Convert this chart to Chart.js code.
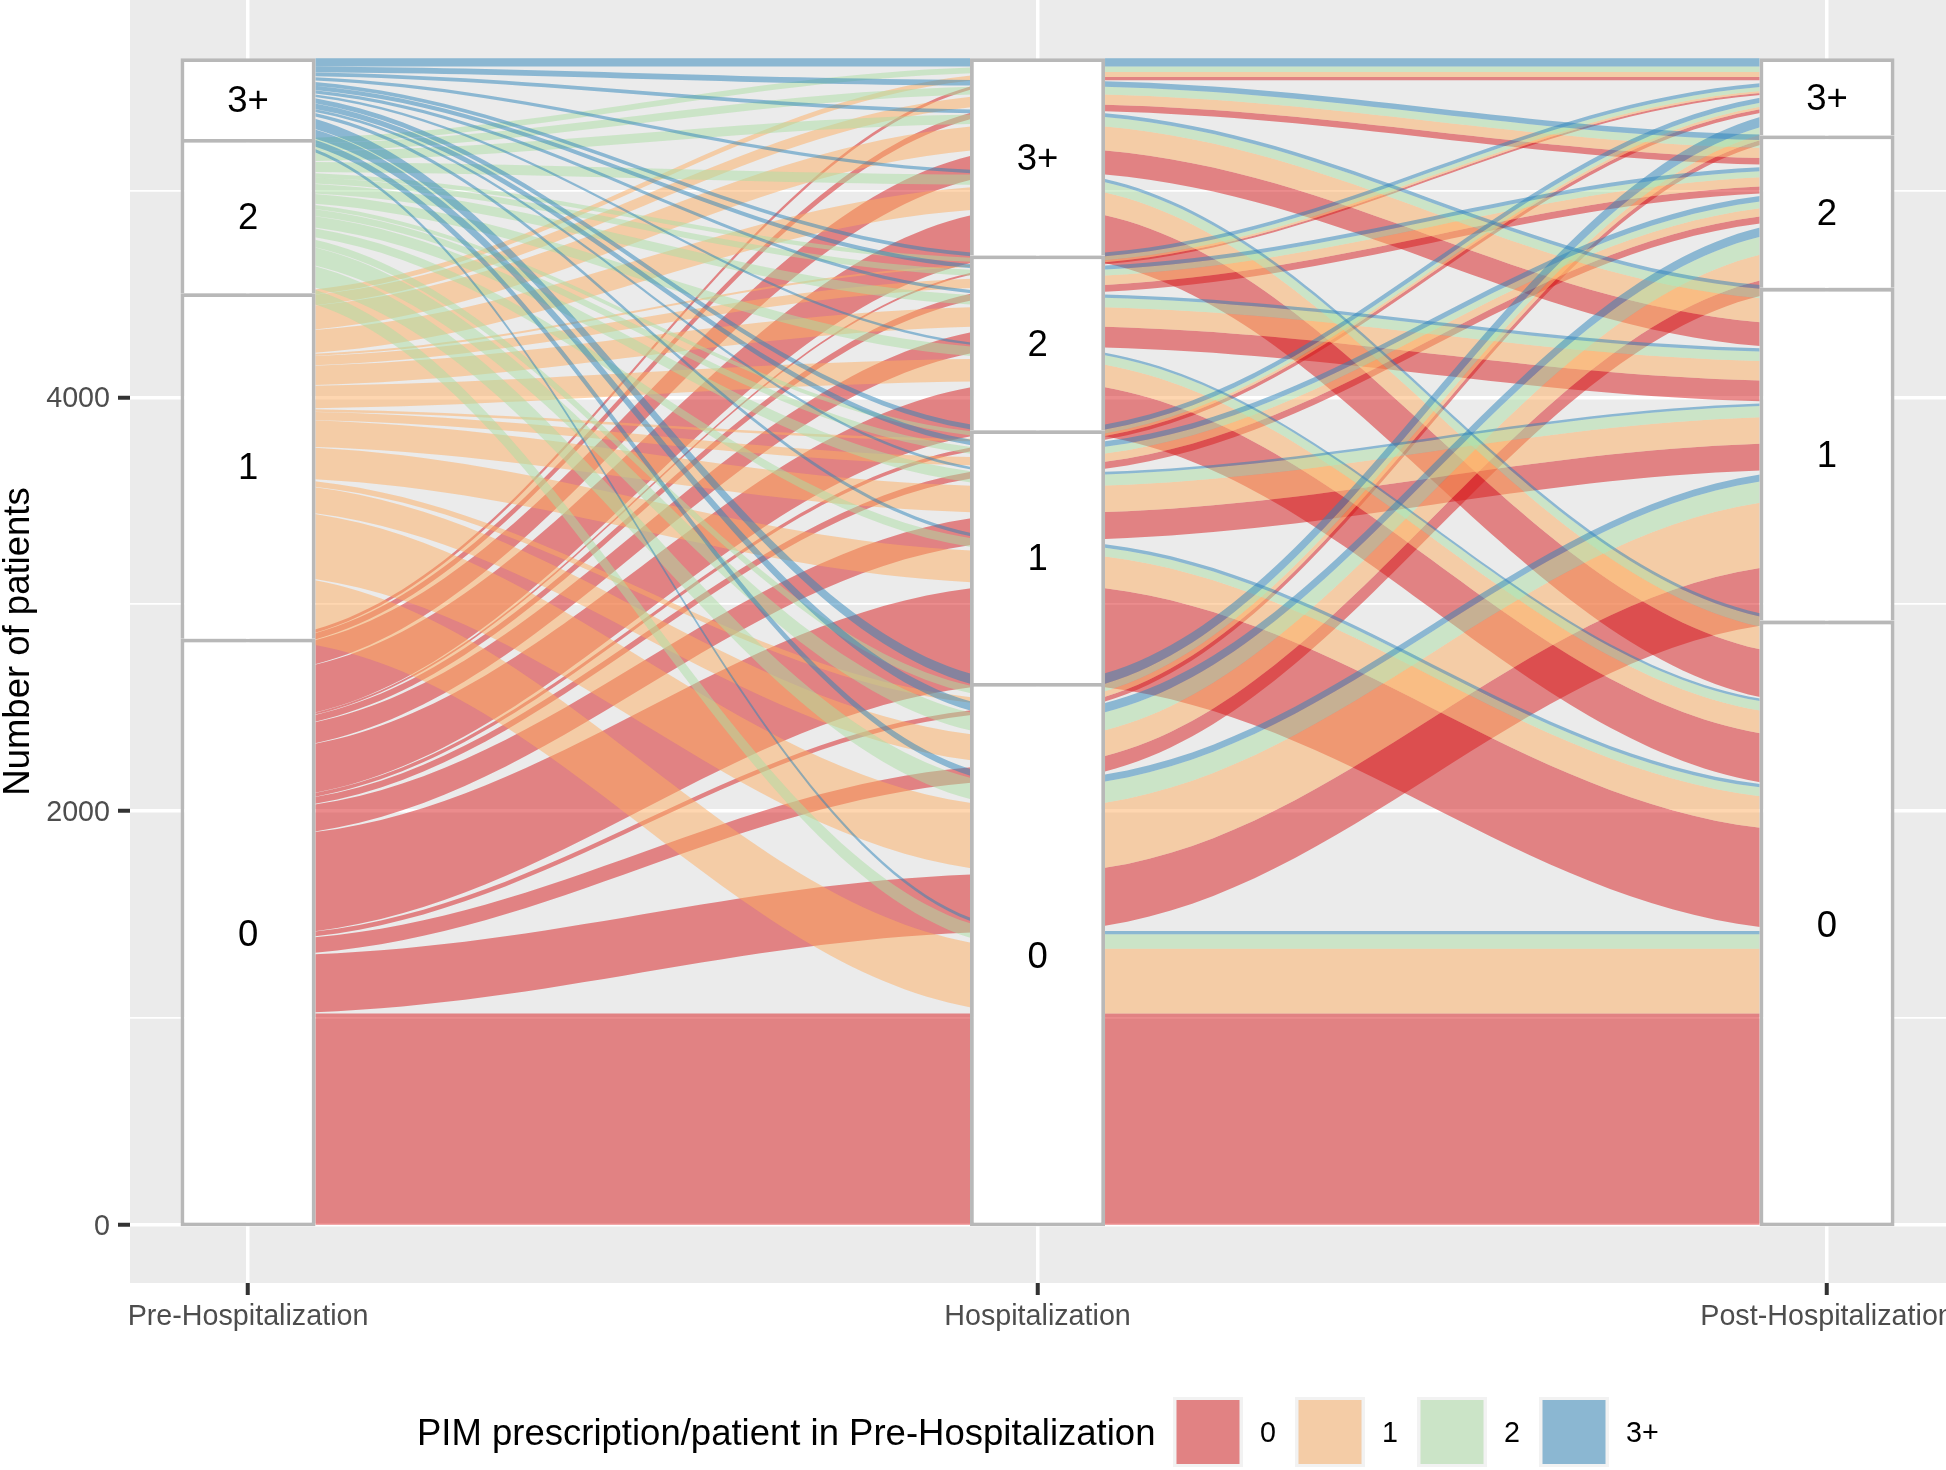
<!DOCTYPE html>
<html lang="en">
<head>
    <meta charset="UTF-8">
    <title>PIM prescriptions alluvial</title>
    <script src="https://cdn.jsdelivr.net/npm/chart.js"></script>
    <style>
        html, body { margin: 0; background: #fff; overflow: hidden; }
        canvas { display: block; }
    </style>
</head>
<body>
    <canvas id="alluvial" width="1946" height="1470"></canvas>

    <script>
        const axisLabels = ['Pre-Hospitalization', 'Hospitalization', 'Post-Hospitalization'];
        const strata = ['0', '1', '2', '3+'];
        const yTicks = [0, 1000, 2000, 3000, 4000, 5000];
        const yLabels = ['0', '', '2000', '', '4000', ''];

        // patients per pre-hospitalization group.
        // each row is one hospitalization stratum (0,1,2,3+), each column a post stratum (0,1,2,3+)
        const pre0 = [
            [1021, 280, 75, 23],
            [479, 130, 33, 18],
            [237, 101, 33, 9],
            [231, 116, 31, 16]
        ];
        const pre1 = [
            [313, 315, 125, 27],
            [153, 128, 40, 12],
            [109, 94, 45, 10],
            [110, 116, 50, 24]
        ];
        const pre2 = [
            [70, 103, 87, 36],
            [43, 54, 33, 20],
            [46, 46, 29, 20],
            [49, 46, 37, 27]
        ];
        const pre3 = [
            [16, 33, 45, 50],
            [16, 13, 27, 24],
            [12, 16, 20, 18],
            [16, 18, 27, 39]
        ];
        const counts = [pre0, pre1, pre2, pre3];

        const flowColors = ['rgba(215,25,28,0.5)', 'rgba(253,174,97,0.5)', 'rgba(171,221,164,0.5)', 'rgba(43,131,186,0.5)'];
        const CURVE = 0.38;

        // stack the lodes on one axis. order is the nesting of [p, h, q] indices, outermost first
        function stackLodes(order) {
            const lodes = {};
            const totals = [0, 0, 0, 0];
            let y = 0;
            const idx = [0, 0, 0];
            for (idx[order[0]] = 0; idx[order[0]] < 4; idx[order[0]]++) {
                const start = y;
                for (idx[order[1]] = 0; idx[order[1]] < 4; idx[order[1]]++) {
                    for (idx[order[2]] = 0; idx[order[2]] < 4; idx[order[2]]++) {
                        const n = counts[idx[0]][idx[1]][idx[2]];
                        lodes[idx.join('-')] = [y, y + n];
                        y += n;
                    }
                }
                totals[idx[order[0]]] = y - start;
            }
            return { lodes, totals };
        }

        const preStack = stackLodes([0, 1, 2]);
        const hospStack = stackLodes([1, 2, 0]);
        const postStack = stackLodes([2, 1, 0]);

        function ribbon(ctx, xs, ys, a, b, ax, bx, color) {
            const x0 = xs.getPixelForValue(ax);
            const x1 = xs.getPixelForValue(bx);
            const c = (x1 - x0) * CURVE;
            const t0 = ys.getPixelForValue(a[1]), b0 = ys.getPixelForValue(a[0]);
            const t1 = ys.getPixelForValue(b[1]), b1 = ys.getPixelForValue(b[0]);
            ctx.beginPath();
            ctx.moveTo(x0, t0);
            ctx.bezierCurveTo(x0 + c, t0, x1 - c, t1, x1, t1);
            ctx.lineTo(x1, b1);
            ctx.bezierCurveTo(x1 - c, b1, x0 + c, b0, x0, b0);
            ctx.closePath();
            ctx.fillStyle = color;
            ctx.fill();
        }

        function drawFlows(chart, from, to, ax, bx) {
            const { ctx, chartArea: area, scales: { x, y } } = chart;
            const bars = chart.getDatasetMeta(0).data;
            // the flows run from axis centre to axis centre, only the part between the strata shows
            const left = bars[ax - 1].x + bars[ax - 1].width / 2;
            const right = bars[bx - 1].x - bars[bx - 1].width / 2;
            ctx.save();
            ctx.beginPath();
            ctx.rect(left, area.top, right - left, area.bottom - area.top);
            ctx.clip();
            for (let p = 0; p < 4; p++) {
                for (let h = 0; h < 4; h++) {
                    for (let q = 0; q < 4; q++) {
                        const key = p + '-' + h + '-' + q;
                        ribbon(ctx, x, y, from.lodes[key], to.lodes[key], ax, bx, flowColors[p]);
                    }
                }
            }
            ctx.restore();
        }

        const panelPlugin = {
            id: 'panel',
            beforeDraw(chart) {
                const { ctx, chartArea: a } = chart;
                ctx.fillStyle = '#EBEBEB';
                ctx.fillRect(a.left, a.top, a.right - a.left, a.bottom - a.top);
            }
        };

        const flowPlugin = {
            id: 'flows',
            beforeDatasetsDraw(chart) {
                drawFlows(chart, preStack, hospStack, 1, 2);
                drawFlows(chart, hospStack, postStack, 2, 3);
            }
        };

        const labelPlugin = {
            id: 'stratumLabels',
            afterDatasetsDraw(chart) {
                const { ctx } = chart;
                ctx.save();
                ctx.font = '36.5px "Liberation Sans"';
                ctx.fillStyle = '#000';
                ctx.textAlign = 'center';
                ctx.textBaseline = 'middle';
                chart.data.datasets.forEach((ds, i) => {
                    chart.getDatasetMeta(i).data.forEach(bar => {
                        const mid = (bar.y + bar.base) / 2;
                        ctx.fillText(ds.label, bar.x, mid + 3);
                    });
                });
                ctx.restore();
            }
        };

        const legendPlugin = {
            id: 'fillLegend',
            afterDraw(chart) {
                const { ctx } = chart;
                ctx.save();
                ctx.textBaseline = 'middle';
                ctx.fillStyle = '#000';
                ctx.font = '36.5px "Liberation Sans"';
                ctx.fillText('PIM prescription/patient in Pre-Hospitalization', 417, 1435);
                ctx.font = '28.7px "Liberation Sans"';
                strata.forEach((s, i) => {
                    const kx = 1173 + i * 122;
                    ctx.fillStyle = '#F2F2F2';
                    ctx.fillRect(kx, 1397, 70, 70);
                    ctx.fillStyle = '#EBEBEB';
                    ctx.fillRect(kx + 3.5, 1400, 63, 64);
                    ctx.fillStyle = flowColors[i];
                    ctx.fillRect(kx + 3.5, 1400, 63, 64);
                    ctx.fillStyle = '#000';
                    ctx.fillText(s, kx + 87, 1434);
                });
                ctx.restore();
            }
        };

        function stratumDataset(i) {
            return {
                label: strata[i],
                data: [
                    { x: 1, y: preStack.totals[i] },
                    { x: 2, y: hospStack.totals[i] },
                    { x: 3, y: postStack.totals[i] }
                ],
                backgroundColor: '#FFFFFF',
                borderColor: '#B8B8B8',
                borderWidth: { top: 3.8, left: 3.8, right: 3.8, bottom: i === 0 ? 3.8 : 0 },
                borderSkipped: false,
                // bottom border sits just under the zero line
                base: i === 0 ? -8 : undefined,
                barPercentage: 0.171,
                categoryPercentage: 1
            };
        }

        new Chart(document.getElementById('alluvial'), {
            type: 'bar',
            data: { datasets: strata.map((s, i) => stratumDataset(i)) },
            plugins: [panelPlugin, flowPlugin, labelPlugin, legendPlugin],
            options: {
                responsive: false,
                animation: false,
                layout: { padding: { left: 0, right: 0, top: 0, bottom: 127 } },
                plugins: { legend: { display: false }, tooltip: { enabled: false } },
                scales: {
                    x: {
                        type: 'linear',
                        stacked: true,
                        offset: false,
                        min: 0.8505,
                        max: 3.1507,
                        afterBuildTicks: scale => { scale.ticks = [1, 2, 3].map(v => ({ value: v })); },
                        afterFit: scale => { scale.height = 60; scale.paddingLeft = 0; scale.paddingRight = 0; },
                        border: { display: false },
                        grid: { offset: false, color: '#FFFFFF', lineWidth: 3.5, tickColor: '#333333', tickWidth: 4, tickLength: 12 },
                        ticks: {
                            autoSkip: false,
                            maxRotation: 0,
                            minRotation: 0,
                            padding: 5,
                            color: '#4D4D4D',
                            font: { family: '"Liberation Sans"', size: 28.7 },
                            callback: v => axisLabels[v - 1]
                        }
                    },
                    y: {
                        stacked: true,
                        min: -282,
                        max: 5922,
                        afterBuildTicks: scale => { scale.ticks = yTicks.map(v => ({ value: v })); },
                        afterFit: scale => { scale.width = 130; scale.paddingTop = 0; scale.paddingBottom = 0; },
                        border: { display: false },
                        grid: {
                            color: '#FFFFFF',
                            lineWidth: c => yLabels[c.index] ? 3.5 : 1.75,
                            tickColor: c => yLabels[c.index] ? '#333333' : 'rgba(0,0,0,0)',
                            tickWidth: 4,
                            tickLength: 12
                        },
                        ticks: {
                            padding: 8,
                            labelOffset: 2,
                            color: '#4D4D4D',
                            font: { family: '"Liberation Sans"', size: 28.7 },
                            callback: (v, i) => yLabels[i]
                        },
                        title: {
                            display: true,
                            text: 'Number of patients',
                            color: '#000',
                            font: { family: '"Liberation Sans"', size: 36.5, lineHeight: 1.05 },
                            padding: { top: 0, bottom: 0 }
                        }
                    }
                }
            }
        });
    </script>
</body>
</html>
